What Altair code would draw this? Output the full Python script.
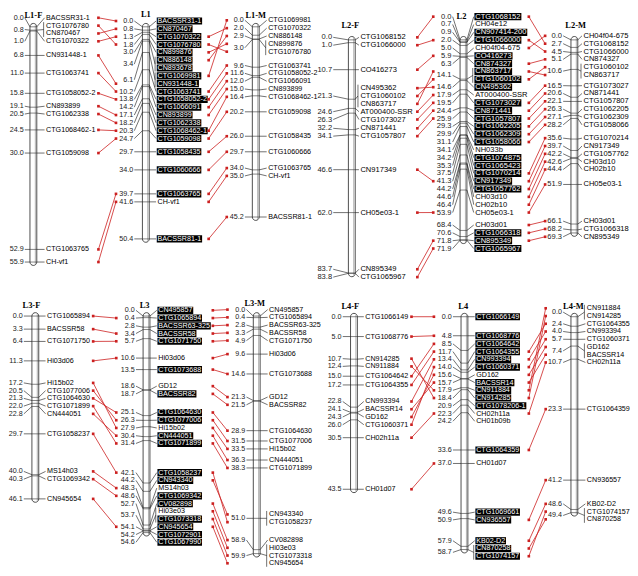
import altair as alt
import pandas as pd

# ---------------- data (positions in cM, marker names) ----------------
L1F_POS = [0.0, 0.8, 0.8, 1.0, 6.8, 11.0, 15.8, 19.1, 20.5, 24.5, 30.0, 52.9, 55.9]
L1F_MARKERS = ["BACSSR31-1", "CTG1076780", "CN870467", "CTG1070322", "CN931448-1", "CTG1063741",
               "CTG1058052-2", "CN893899", "CTG1062338", "CTG1068462-1", "CTG1059098", "CTG1063765", "CH-vf1"]
L1_POS = [0.0, 0.8, 1.3, 1.8, 3.0, 3.4, 3.4, 6.1, 6.1, 10.2, 13.8, 14.2, 17.1, 18.2, 20.3, 24.7,
          29.7, 34.0, 39.7, 41.6, 50.4]
L1_MARKERS = ["BACSSR31-1", "CN870467", "CTG1070322", "CTG1076780", "CN899876", "CN886148", "CN893678",
              "CTG1069981", "CN931448-1", "CTG1063741", "CTG1058052-2", "CTG1066091", "CN893899",
              "CTG1062338", "CTG1068462-1", "CTG1059098", "CTG1058435", "CTG1060666", "CTG1063765",
              "CH-vf1", "BACSSR81-1"]
L1_PLAIN = ["CH-vf1"]
L1M_POS = [0.0, 2.0, 2.9, 3.0, 3.0, 9.6, 11.6, 12.0, 15.0, 16.4, 20.2, 26.0, 29.7, 34.0, 35.0, 45.2]
L1M_MARKERS = ["CTG1069981", "CTG1070322", "CN886148", "CN899876", "CTG1076780", "CTG1063741",
               "CTG1058052-2", "CTG1066091", "CN893899", "CTG1068462-1", "CTG1059098", "CTG1058435",
               "CTG1060666", "CTG1063765", "CH-vf1", "BACSSR81-1"]

L2F_POS = [0.0, 1.0, 10.7, 21.3, 21.3, 21.3, 24.6, 26.3, 32.2, 34.1, 46.6, 62.0, 83.7, 83.8]
L2F_MARKERS = ["CTG1068152", "CTG1066000", "CO416273", "CN495362", "CTG1060102", "CN863717",
               "AT000400-SSR", "CTG1073027", "CN871441", "CTG1057807", "CN917349", "CH05e03-1",
               "CN895349", "CTG1065967"]
L2_POS = [0.0, 0.7, 0.9, 2.0, 5.0, 5.9, 6.3, 14.1, 14.1, 14.6, 17.9, 19.5, 24.4, 25.9, 29.3, 29.9,
          31.1, 34.1, 34.2, 35.3, 37.5, 41.3, 44.2, 44.6, 46.4, 53.9, 68.4, 70.6, 71.8, 71.9]
L2_MARKERS = ["CTG1068152", "CH04e12", "CN907414-200", "CTG1066000", "CH04f04-675", "CO416273",
              "CN874327", "CN863717", "CTG1060102", "CN495362", "AT000400-SSR", "CTG1073027",
              "CN871441", "CTG1057807", "CTG1062205", "CTG1062309", "CTG1058066", "NH033b",
              "CTG1074875", "CTG1065423", "CTG1070214", "CN917349", "CTG1057762", "CH03d10",
              "CH02b10", "CH05e03-1", "CH03d01", "CTG1066318", "CN895349", "CTG1065967"]
L2_PLAIN = ["CH04e12", "CH04f04-675", "AT000400-SSR", "NH033b", "CH03d10", "CH02b10", "CH05e03-1", "CH03d01"]
L2M_POS = [0.0, 2.7, 4.5, 5.1, 10.6, 10.6, 16.5, 20.6, 22.1, 26.3, 27.1, 28.2, 35.6, 39.7, 42.2,
           42.6, 44.4, 51.9, 66.1, 68.2, 69.3]
L2M_MARKERS = ["CH04f04-675", "CTG1068152", "CTG1066000", "CN874327", "CTG1060102", "CN863717",
               "CTG1073027", "CN871441", "CTG1057807", "CTG1062205", "CTG1062309", "CTG1058066",
               "CTG1070214", "CN917349", "CTG1057762", "CH03d10", "CH02b10", "CH05e03-1", "CH03d01",
               "CTG1066318", "CN895349"]

L3F_POS = [0.0, 3.3, 6.4, 11.3, 17.2, 20.5, 21.3, 22.0, 22.8, 29.7, 40.0, 40.3, 46.1]
L3F_MARKERS = ["CTG1065894", "BACSSR58", "CTG1071750", "Hi03d06", "Hi15b02", "CTG1077006",
               "CTG1064630", "CTG1071899", "CN444051", "CTG1058237", "MS14h03", "CTG1069342", "CN945654"]
L3_POS = [0.0, 0.4, 2.8, 3.4, 5.7, 10.6, 13.5, 18.6, 18.7, 25.1, 26.3, 27.9, 30.4, 31.4, 42.1,
          44.2, 48.3, 48.6, 52.7, 53.7, 53.7, 54.1, 54.2, 54.6]
L3_MARKERS = ["CN495857", "CTG1065894", "BACSSR63-325", "BACSSR58", "CTG1071750", "Hi03d06",
              "CTG1073688", "GD12", "BACSSR82", "CTG1064630", "CTG1077006", "Hi15b02", "CN444051",
              "CTG1071899", "CTG1058237", "CN943340", "MS14h03", "CTG1069342", "CV082898", "Hi03e03",
              "CTG1073318", "CN945654", "CTG1072901", "CTG1067990"]
L3_PLAIN = ["Hi03d06", "GD12", "Hi15b02", "MS14h03", "Hi03e03"]
L3M_POS = [0.0, 0.4, 2.8, 3.3, 4.9, 9.6, 14.6, 21.3, 21.5, 28.9, 31.5, 33.5, 36.3, 38.3, 51.0,
           51.0, 58.9, 59.9, 59.9, 59.9]
L3M_MARKERS = ["CN495857", "CTG1065894", "BACSSR63-325", "BACSSR58", "CTG1071750", "Hi03d06",
               "CTG1073688", "GD12", "BACSSR82", "CTG1064630", "CTG1077006", "Hi15b02", "CN444051",
               "CTG1071899", "CN943340", "CTG1058237", "CV082898", "Hi03e03", "CTG1073318", "CN945654"]

L4F_POS = [0.0, 5.0, 10.7, 12.4, 15.0, 17.2, 22.8, 24.1, 24.3, 26.0, 30.5, 43.5]
L4F_MARKERS = ["CTG1066149", "CTG1068776", "CN914285", "CN911884", "CTG1064642", "CTG1064355",
               "CN993394", "BACSSR14", "GD162", "CTG1060371", "CH02h11a", "CH01d07"]
L4_POS = [0.0, 4.8, 8.5, 11.7, 13.4, 14.0, 15.6, 15.7, 17.9, 18.4, 20.9, 22.3, 24.2, 33.6, 37.0,
          49.6, 50.9, 57.9, 58.7, 58.7]
L4_MARKERS = ["CTG1066149", "CTG1068776", "CTG1064642", "CTG1064355", "CN993394", "CTG1060371",
              "GD162", "BACSSR14", "CN911884", "CN914285", "CTG1078206-1", "CH02h11a", "CH01b09b",
              "CTG1064359", "CH01d07", "CTG1069661", "CN936557", "KB02-D2", "CN870258", "CTG1074157"]
L4_PLAIN = ["GD162", "CH02h11a", "CH01b09b", "CH01d07"]
L4M_POS = [0.0, 0.0, 2.4, 4.0, 5.7, 7.4, 7.4, 10.7, 23.3, 41.2, 48.6, 49.4, 49.4]
L4M_MARKERS = ["CN911884", "CN914285", "CTG1064355", "CN993394", "CTG1060371", "GD162", "BACSSR14",
               "CH02h11a", "CTG1064359", "CN936557", "KB02-D2", "CTG1074157", "CN870258"]

SERIES = {
    "L1": [("L1-F", L1F_POS, L1F_MARKERS, None), ("L1", L1_POS, L1_MARKERS, L1_PLAIN), ("L1-M", L1M_POS, L1M_MARKERS, None)],
    "L2": [("L2-F", L2F_POS, L2F_MARKERS, None), ("L2", L2_POS, L2_MARKERS, L2_PLAIN), ("L2-M", L2M_POS, L2M_MARKERS, None)],
    "L3": [("L3-F", L3F_POS, L3F_MARKERS, None), ("L3", L3_POS, L3_MARKERS, L3_PLAIN), ("L3-M", L3M_POS, L3M_MARKERS, None)],
    "L4": [("L4-F", L4F_POS, L4F_MARKERS, None), ("L4", L4_POS, L4_MARKERS, L4_PLAIN), ("L4-M", L4M_POS, L4M_MARKERS, None)],
}

# ---------------- layout & style (reference-pixel units) ----------------
FONT = "Liberation Sans"
TITLE_FONT = "Liberation Serif"
RED = "#cc2020"
KX, KY = 0.98, 0.972
COL_W = [312, 310]
ROW_H = [276, 284]
HALF = 3.5     # chromosome half width
BELOW = 10.0   # labels may hang this far below the chromosome's last marker

LAYOUT = {
    "L1": dict(col=0, row=0, y0=17.0, ppc=4.35, fs=7.2, gap=8.1, dots=(92.7, 110.7, 205.7, 224.3),
               chroms=[dict(cx=26.0, pr=16.0, nx=39.0, tx=26.0, ty=5.0, top=6.0),
                       dict(cx=141.3, pr=128.3, nx=153.3, tx=141.3, ty=4.0, top=11.0),
                       dict(cx=254.0, pr=241.7, nx=266.7, tx=254.0, ty=5.0, top=5.5)]),
    "L2": dict(col=1, row=0, y0=30.5, ppc=2.88, fs=7.6, gap=8.1, dots=(419.7, 436.0, 534.0, 550.7),
               chroms=[dict(cx=352.5, pr=332.3, nx=361.3, tx=351.0, ty=15.0, top=6.0),
                       dict(cx=467.0, pr=454.7, nx=479.0, tx=465.0, ty=6.0, top=6.5),
                       dict(cx=580.7, pr=568.0, nx=590.0, tx=582.0, ty=15.0, top=6.0)]),
    "L3": dict(col=0, row=1, y0=316.0, ppc=4.1, fs=7.2, gap=8.0, dots=(87.3, 111.0, 210.0, 225.0),
               chroms=[dict(cx=28.0, pr=15.0, nx=40.0, tx=24.0, ty=305.0, top=306.0),
                       dict(cx=142.0, pr=130.0, nx=154.0, tx=140.0, ty=305.0, top=306.0),
                       dict(cx=255.0, pr=243.3, nx=267.7, tx=253.0, ty=303.0, top=306.0)]),
    "L4": dict(col=1, row=1, y0=316.7, ppc=4.1, fs=7.2, gap=8.0, dots=(413.7, 436.7, 534.0, 551.3),
               chroms=[dict(cx=354.7, pr=342.0, nx=366.3, tx=351.0, ty=305.7, top=306.0),
                       dict(cx=468.0, pr=455.0, nx=480.0, tx=466.7, ty=305.7, top=306.0),
                       dict(cx=580.7, pr=568.0, nx=593.5, tx=579.7, ty=305.7, top=306.0)]),
}

CHAR_W = {'A': .667, 'B': .667, 'C': .722, 'D': .722, 'E': .667, 'F': .611, 'G': .778, 'H': .722,
          'I': .278, 'K': .667, 'L': .556, 'M': .833, 'N': .722, 'O': .778, 'P': .667, 'R': .722,
          'S': .667, 'T': .611, 'V': .667, 'a': .556, 'b': .556, 'c': .5, 'd': .556, 'e': .556,
          'f': .278, 'h': .556, 'i': .222, 'r': .333, 's': .5, 'v': .5, '-': .333, '.': .278}


def text_width(s, fs):
    return sum(CHAR_W.get(ch, .556) for ch in s) * fs


def layout_rows(pos, names, y0, ppc, gap, top_min):
    groups = []
    for p, n in zip(pos, names):
        if groups and groups[-1][0] == p:
            groups[-1][1].append(n)
        else:
            groups.append([p, [n]])
    desired, owner = [], []
    for gi, (p, ns) in enumerate(groups):
        c = y0 + p * ppc
        k = len(ns)
        for j in range(k):
            desired.append(c + (j - (k - 1) / 2) * gap)
            owner.append(gi)
    N = len(desired)
    bottom_max = y0 + max(pos) * ppc + BELOW

    def clamp(t, s):
        t = min(t, bottom_max - (N - 1 - s) * gap)
        return max(t, top_min)

    clusters = []
    for i, d in enumerate(desired):
        clusters.append([i, i, clamp(d, i)])
        while len(clusters) > 1:
            a, b = clusters[-2], clusters[-1]
            if b[2] < a[2] + (a[1] - a[0] + 1) * gap - 1e-6:
                s, e = a[0], b[1]
                n = e - s + 1
                t = sum(desired[s:e + 1]) / n - (n - 1) / 2 * gap
                clusters[-2:] = [[s, e, clamp(t, s)]]
            else:
                break
    rows = [0.0] * N
    for s, e, t in clusters:
        for i in range(s, e + 1):
            rows[i] = t + (i - s) * gap
    return groups, rows, owner


def build_panel(key):
    L = LAYOUT[key]
    y0, ppc, fs, gap = L["y0"], L["ppc"], L["fs"], L["gap"]
    cm = lambda yr: (yr - y0) / ppc
    col, row = L["col"], L["row"]
    x_lo = 1 + sum(COL_W[:col]) / KX
    x_hi = x_lo + COL_W[col] / KX
    y_lo = 1 + sum(ROW_H[:row]) / KY
    y_hi = y_lo + ROW_H[row] / KY
    xs = alt.Scale(domain=[x_lo, x_hi], nice=False, zero=False)
    ys = alt.Scale(domain=[cm(y_lo), cm(y_hi)], nice=False, zero=False, reverse=True)

    bodies, ticks, segs, texts_r, texts_l, boxes, titles, shades = [], [], [], [], [], [], [], []
    rowmaps = []
    for (title, pos, names, plain), c in zip(SERIES[key], L["chroms"]):
        cx, pr, nx = c["cx"], c["pr"], c["nx"]
        groups, rows, owner = layout_rows(pos, names, y0, ppc, gap, c["top"])
        bodies.append(dict(x=cx - HALF, x2=cx + HALF, y=min(pos) - 3.5 / ppc, y2=max(pos) + 3.5 / ppc))
        shades.append(dict(x=cx + 2.0, x2=cx + 2.0, y=min(pos) - 2.0 / ppc, y2=max(pos) + 2.0 / ppc))
        titles.append(dict(x=c["tx"], y=cm(c["ty"]), t=title))
        rmap = {}
        for gi, (p, ns) in enumerate(groups):
            grows = [rows[i] for i in range(len(rows)) if owner[i] == gi]
            ly = sum(grows) / len(grows)
            ticks.append(dict(x=cx - HALF, x2=cx + HALF, y=p, y2=p))
            texts_r.append(dict(x=pr, y=cm(ly), t=f"{p:.1f}"))
            segs.append(dict(x=pr + 1.2, x2=cx - HALF, y=cm(ly), y2=p))
            if len(ns) > 1:
                bx = nx - 2.5
                segs.append(dict(x=bx, x2=bx, y=cm(grows[0] - 3.6), y2=cm(grows[-1] + 3.6)))
                segs.append(dict(x=cx + HALF, x2=bx, y=p, y2=cm(ly)))
            else:
                segs.append(dict(x=cx + HALF, x2=nx - 1.5, y=p, y2=cm(ly)))
            for n, ry in zip(ns, grows):
                hl = plain is not None and n not in plain
                texts_l.append(dict(x=nx, y=cm(ry), t=n, c="white" if hl else "black"))
                if hl:
                    w = text_width(n, fs) / KX
                    boxes.append(dict(x=nx - 0.8, x2=nx + w + 0.8, y=cm(ry - 3.7), y2=cm(ry + 3.7)))
                rmap[n] = ry
        rowmaps.append(rmap)

    fdot, cl, cr, ml = L["dots"]
    red, dots = [], []
    for (a, b, xa, xb) in [(0, 1, fdot, cl), (1, 2, cr, ml)]:
        for n, ya in rowmaps[a].items():
            if n in rowmaps[b]:
                yb = rowmaps[b][n]
                red.append(dict(x=xa, x2=xb, y=cm(ya), y2=cm(yb)))
                dots.append(dict(x=xa, y=cm(ya)))
                dots.append(dict(x=xb, y=cm(yb)))

    X = alt.X("x:Q", scale=xs, axis=None)
    Y = alt.Y("y:Q", scale=ys, axis=None)
    X2, Y2 = alt.X2("x2:Q"), alt.Y2("y2:Q")

    layers = [
        alt.Chart(pd.DataFrame(bodies)).mark_rect(fill="white", stroke="#222", strokeWidth=0.8,
                                                  cornerRadius=HALF).encode(x=X, x2=X2, y=Y, y2=Y2),
        alt.Chart(pd.DataFrame(shades)).mark_rule(color="#b0b0b0", strokeWidth=1.0).encode(x=X, x2=X2, y=Y, y2=Y2),
        alt.Chart(pd.DataFrame(ticks)).mark_rule(color="#333", strokeWidth=0.6).encode(x=X, x2=X2, y=Y, y2=Y2),
        alt.Chart(pd.DataFrame(segs)).mark_rule(color="#111", strokeWidth=0.6).encode(x=X, x2=X2, y=Y, y2=Y2),
        alt.Chart(pd.DataFrame(boxes)).mark_rect(color="black").encode(x=X, x2=X2, y=Y, y2=Y2),
        alt.Chart(pd.DataFrame(texts_r)).mark_text(align="right", baseline="middle", font=FONT,
                                                   fontSize=fs, color="#222").encode(x=X, y=Y, text="t:N"),
        alt.Chart(pd.DataFrame(texts_l)).mark_text(align="left", baseline="middle", font=FONT,
                                                   fontSize=fs).encode(
            x=X, y=Y, text="t:N", color=alt.Color("c:N", scale=None)),
        alt.Chart(pd.DataFrame(red)).mark_rule(color=RED, strokeWidth=0.8).encode(x=X, x2=X2, y=Y, y2=Y2),
        alt.Chart(pd.DataFrame(dots)).mark_point(shape="square", filled=True, size=7, color=RED,
                                                 opacity=1).encode(x=X, y=Y),
        alt.Chart(pd.DataFrame(titles)).mark_text(align="center", baseline="middle", font=TITLE_FONT,
                                                  fontSize=8.5, fontWeight="bold", color="black").encode(
            x=X, y=Y, text="t:N"),
    ]
    return alt.layer(*layers).properties(width=COL_W[col], height=ROW_H[row])


chart = alt.concat(build_panel("L1"), build_panel("L2"), build_panel("L3"), build_panel("L4"),
                   columns=2, spacing=0, bounds="flush").properties(padding=0).configure_view(stroke=None)

chart.save("out.html", embed_options={"renderer": "svg", "actions": False})
